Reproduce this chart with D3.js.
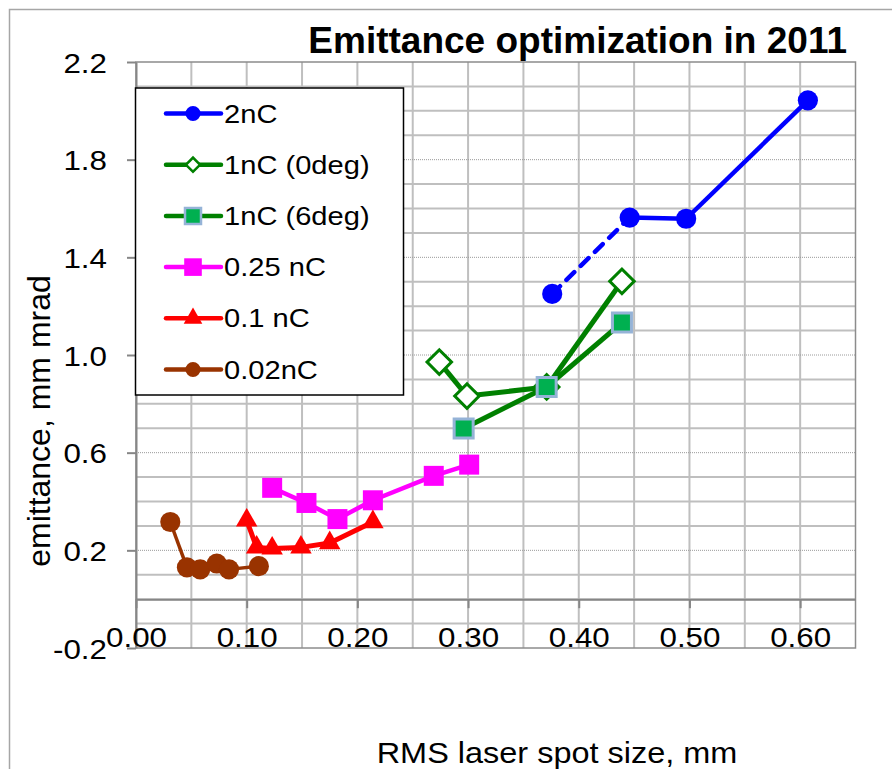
<!DOCTYPE html>
<html>
<head>
<meta charset="utf-8">
<script src="https://cdn.jsdelivr.net/npm/d3@7"></script>
<style>
body { margin: 0; background: #fff; }
text { font-family: "Liberation Sans", Arial, sans-serif; fill: #000; }
</style>
</head>
<body>
<div id="viz"></div>
<script>
// chart values
const title = "Emittance optimization in 2011";
const xAxisLabel = "RMS laser spot size, mm";
const yAxisLabel = "emittance, mm mrad";
const xTicks = [0, 0.1, 0.2, 0.3, 0.4, 0.5, 0.6];
const yTicks = [-0.2, 0.2, 0.6, 1.0, 1.4, 1.8, 2.2];

const seriesNames = ["2nC", "1nC (0deg)", "1nC (6deg)", "0.25 nC", "0.1 nC", "0.02nC"];

const x2nC = [0.376, 0.446, 0.497, 0.607];
const y2nC = [1.25, 1.563, 1.558, 2.043];
const dashed2nC = [true, false, false];   // first segment dashed

const x1nC0 = [0.274, 0.299, 0.371, 0.439];
const y1nC0 = [0.971, 0.832, 0.869, 1.302];

const x1nC6 = [0.296, 0.371, 0.439];
const y1nC6 = [0.699, 0.869, 1.133];

const x025 = [0.123, 0.154, 0.182, 0.214, 0.269, 0.301];
const y025 = [0.456, 0.394, 0.328, 0.405, 0.505, 0.551];

const x01 = [0.100, 0.109, 0.123, 0.149, 0.175, 0.214];
const y01 = [0.323, 0.212, 0.208, 0.212, 0.230, 0.316];

const x002 = [0.031, 0.046, 0.058, 0.073, 0.084, 0.111];
const y002 = [0.316, 0.130, 0.122, 0.146, 0.122, 0.135];

const W = 892, H = 769;
const plot = { left: 136, right: 855.5, top: 62, bottom: 648 };
const SX = 1.12;   // the source text is a little wide

const svg = d3.select("#viz").append("svg")
    .attr("width", W)
    .attr("height", H);

// outer chart frame (runs off the picture to the right and bottom)
svg.append("rect")
    .attr("x", 9.5).attr("y", 9.5)
    .attr("width", 1000).attr("height", 1000)
    .attr("fill", "white")
    .attr("stroke", "#a6a6a6")
    .attr("stroke-width", 1.5);

const x = d3.scaleLinear().domain([0, 0.65]).range([plot.left, plot.right]);
const y = d3.scaleLinear().domain([-0.2, 2.2]).range([plot.bottom, plot.top]);

// gridlines
const grid = svg.append("g");
d3.range(1, 13).map(i => +(i * 0.05).toFixed(2)).forEach(v => {
    grid.append("line")
        .attr("x1", x(v)).attr("x2", x(v))
        .attr("y1", plot.top).attr("y2", plot.bottom)
        .attr("stroke", "#bfbfbf").attr("stroke-width", 2);
});
d3.range(-1, 22).map(i => +(i * 0.1).toFixed(1)).forEach(v => {
    let isMajor = yTicks.includes(v);
    if (isMajor) {
        grid.append("line")
            .attr("x1", plot.left).attr("x2", plot.right)
            .attr("y1", y(v)).attr("y2", y(v))
            .attr("stroke", "#9a9a9a").attr("stroke-width", 1)
            .attr("stroke-dasharray", "1,1");
    } else {
        grid.append("line")
            .attr("x1", plot.left).attr("x2", plot.right)
            .attr("y1", y(v)).attr("y2", y(v))
            .attr("stroke", "#bfbfbf").attr("stroke-width", 2);
    }
});

// plot area border
svg.append("rect")
    .attr("x", plot.left).attr("y", plot.top)
    .attr("width", plot.right - plot.left)
    .attr("height", plot.bottom - plot.top)
    .attr("fill", "none")
    .attr("stroke", "#8c8c8c")
    .attr("stroke-width", 1.5);

// y axis
const yAxis = svg.append("g")
    .attr("transform", `translate(${plot.left},0)`)
    .call(d3.axisLeft(y).tickValues(yTicks).tickFormat(d => d.toFixed(1))
        .tickSize(9).tickSizeOuter(0).tickPadding(20));
yAxis.select(".domain").attr("stroke", "#868686").attr("stroke-width", 2);
yAxis.selectAll(".tick line").attr("stroke", "#868686").attr("stroke-width", 2);
yAxis.selectAll("text")
    .attr("font-size", 28)
    .attr("font-family", "Liberation Sans, Arial, sans-serif")
    .attr("fill", "#000")
    .attr("x", -29 / SX)
    .attr("transform", `scale(${SX},1)`)
    .attr("dy", "0.36em");

// x axis crosses at y = 0, labels sit at the bottom of the plot
const xAxis = svg.append("g")
    .attr("transform", `translate(0,${y(0)})`)
    .call(d3.axisBottom(x).tickValues(xTicks).tickFormat(d => d.toFixed(2))
        .tickSize(9).tickSizeOuter(0));
xAxis.select(".domain").attr("stroke", "#868686").attr("stroke-width", 2);
xAxis.selectAll(".tick line").attr("stroke", "#868686").attr("stroke-width", 2);
xAxis.selectAll("text")
    .attr("font-size", 28)
    .attr("font-family", "Liberation Sans, Arial, sans-serif")
    .attr("fill", "#000")
    .attr("transform", `scale(${SX},1)`)
    .attr("y", plot.bottom - y(0) - 1)
    .attr("dy", 0);

// series
const series = [
    { name: seriesNames[0], xs: x2nC, ys: y2nC, dashed: dashed2nC, color: "#0000ff", width: 4.5,
      marker: { type: d3.symbolCircle, size: 320, fill: "#0000ff", stroke: "none", sw: 0, rot: 0 },
      legendSize: 180 },
    { name: seriesNames[1], xs: x1nC0, ys: y1nC0, color: "#008000", width: 5,
      marker: { type: d3.symbolSquare, size: 300, fill: "#ffffff", stroke: "#008000", sw: 3, rot: 45 },
      legendSize: 100 },
    { name: seriesNames[2], xs: x1nC6, ys: y1nC6, color: "#008000", width: 5,
      marker: { type: d3.symbolSquare, size: 361, fill: "#00b050", stroke: "#95b3d7", sw: 3, rot: 0 },
      legendSize: 256 },
    { name: seriesNames[3], xs: x025, ys: y025, color: "#ff00ff", width: 4.5,
      marker: { type: d3.symbolSquare, size: 400, fill: "#ff00ff", stroke: "none", sw: 0, rot: 0 },
      legendSize: 310 },
    { name: seriesNames[4], xs: x01, ys: y01, color: "#ff0000", width: 5,
      marker: { type: d3.symbolTriangle, size: 200, fill: "#ff0000", stroke: "none", sw: 0, rot: 0 },
      legendSize: 150 },
    { name: seriesNames[5], xs: x002, ys: y002, color: "#993300", width: 3.5,
      marker: { type: d3.symbolCircle, size: 320, fill: "#993300", stroke: "none", sw: 0, rot: 0 },
      legendSize: 180 }
];

const lines = svg.append("g");
const markers = svg.append("g");

series.forEach(s => {
    let pts = s.xs.map((v, i) => [x(v), y(s.ys[i])]);
    d3.pairs(pts).forEach((pair, i) => {
        let isDashed = s.dashed && s.dashed[i];
        lines.append("path")
            .attr("d", d3.line()(pair))
            .attr("fill", "none")
            .attr("stroke", s.color)
            .attr("stroke-width", s.width)
            .attr("stroke-linecap", isDashed ? "round" : "butt")
            .attr("stroke-dasharray", isDashed ? "11,9" : null);
    });
});
// markers above all lines, in series order
series.forEach(s => {
    s.xs.forEach((v, i) => {
        markers.append("path")
            .attr("d", d3.symbol().type(s.marker.type).size(s.marker.size)())
            .attr("transform", `translate(${x(v)},${y(s.ys[i])}) rotate(${s.marker.rot})`)
            .attr("fill", s.marker.fill)
            .attr("stroke", s.marker.stroke)
            .attr("stroke-width", s.marker.sw);
    });
});

// legend
const legend = svg.append("g");
legend.append("rect")
    .attr("x", 135.5).attr("y", 88)
    .attr("width", 268).attr("height", 307)
    .attr("fill", "white")
    .attr("stroke", "#000")
    .attr("stroke-width", 1.5);

series.forEach((s, i) => {
    let cy = 113.5 + i * 51.2;
    let g = legend.append("g");
    g.append("line")
        .attr("x1", 166).attr("x2", 221)
        .attr("y1", cy).attr("y2", cy)
        .attr("stroke", s.color)
        .attr("stroke-width", 4.5)
        .attr("stroke-linecap", "round");
    g.append("path")
        .attr("d", d3.symbol().type(s.marker.type).size(s.legendSize)())
        .attr("transform", `translate(193,${cy}) rotate(${s.marker.rot})`)
        .attr("fill", s.marker.fill)
        .attr("stroke", s.marker.stroke)
        .attr("stroke-width", s.marker.sw ? 2.5 : 0);
    g.append("text")
        .attr("transform", `translate(224,${cy}) scale(${SX},1)`)
        .attr("dy", "0.35em")
        .attr("font-size", 26)
        .text(s.name);
});

// title and axis labels
svg.append("text")
    .attr("x", 847).attr("y", 53)
    .attr("text-anchor", "end")
    .attr("font-size", 37)
    .attr("font-weight", "bold")
    .text(title);

svg.append("text")
    .attr("transform", `translate(557,763) scale(${SX},1)`)
    .attr("text-anchor", "middle")
    .attr("font-size", 29)
    .text(xAxisLabel);

svg.append("text")
    .attr("transform", "translate(50,421) rotate(-90)")
    .attr("text-anchor", "middle")
    .attr("font-size", 32)
    .text(yAxisLabel);
</script>
</body>
</html>
